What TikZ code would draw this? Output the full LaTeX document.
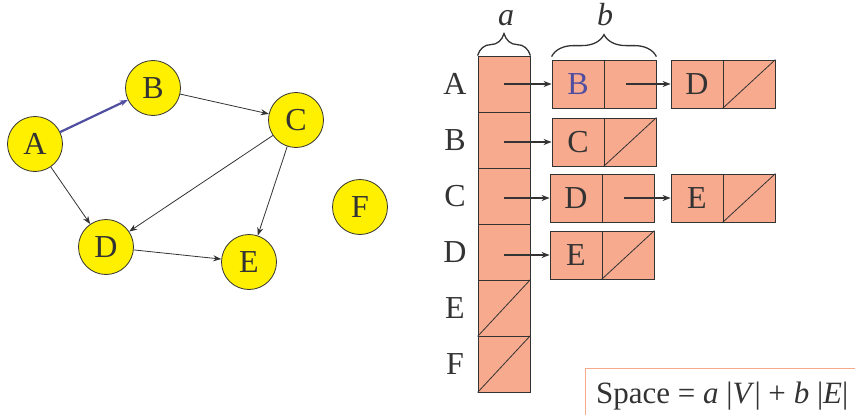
\documentclass[tikz,border=0pt]{standalone}
\usepackage{fontspec}
\setmainfont{Liberation Serif}
\usetikzlibrary{arrows.meta, decorations.pathreplacing}

\definecolor{nodeyellow}{RGB}{255,240,0}
\definecolor{cellfill}{RGB}{248,170,142}
\definecolor{inkgray}{RGB}{51,51,51}
\definecolor{edgeblue}{RGB}{80,78,160}
\definecolor{boxline}{RGB}{245,170,140}

\begin{document}
\begin{tikzpicture}[
    x=1pt, y=-1pt,
    >={Stealth[length=8pt, width=6pt]},
    font=\fontsize{32}{38}\selectfont,
    vertex/.style={circle, draw=inkgray, fill=nodeyellow, line width=0.8pt, minimum size=55pt, inner sep=0pt, text=inkgray},
    edge/.style={->, draw=inkgray, line width=0.8pt},
    cell/.style={draw=inkgray, fill=cellfill, line width=0.8pt, minimum width=52pt, minimum height=48pt, inner sep=0pt, text=inkgray},
    slot/.style={cell, minimum height=56pt},
    link/.style={->, draw=inkgray, line width=1.3pt},
    nil/.style={draw=inkgray, line width=0.8pt},
    brace/.style={decorate, decoration={brace, amplitude=22pt}, draw=inkgray, line width=1.3pt}
]
    \useasboundingbox (0,0) rectangle (855,415);

    % Graph
    \node[vertex] (A) at (35,144) {A};
    \node[vertex] (B) at (153,88) {B};
    \node[vertex] (C) at (296,120) {C};
    \node[vertex] (D) at (106,247) {D};
    \node[vertex] (E) at (249,262) {E};
    \node[vertex] (F) at (360,207) {F};

    \draw[->, draw=edgeblue, line width=2.2pt] (A) -- (B);
    \draw[edge] (B) -- (C);
    \draw[edge] (A) -- (D);
    \draw[edge] (C) -- (D);
    \draw[edge] (C) -- (E);
    \draw[edge] (D) -- (E);

    % Vertex array
    \node[text=inkgray] (labA) at (455,84) {A};
    \node[text=inkgray] (labB) at (455,140) {B};
    \node[text=inkgray] (labC) at (455,196) {C};
    \node[text=inkgray] (labD) at (455,252) {D};
    \node[text=inkgray] (labE) at (455,308) {E};
    \node[text=inkgray] (labF) at (455,364) {F};

    \node[slot] (arrA) at (504,84) {};
    \node[slot] (arrB) at (504,140) {};
    \node[slot] (arrC) at (504,196) {};
    \node[slot] (arrD) at (504,252) {};
    \node[slot] (arrE) at (504,308) {};
    \node[slot] (arrF) at (504,364) {};
    \draw[nil] (arrE.south west) -- (arrE.north east);
    \draw[nil] (arrF.south west) -- (arrF.north east);

    % Adjacency lists
    \node[cell, text=edgeblue] (keyA1) at (578,84) {B};
    \node[cell] (ptrA1) at (630,84) {};
    \node[cell] (keyA2) at (697,84) {D};
    \node[cell] (ptrA2) at (749,84) {};
    \draw[nil] (ptrA2.south west) -- (ptrA2.north east);

    \node[cell] (keyB1) at (578,142) {C};
    \node[cell] (ptrB1) at (630,142) {};
    \draw[nil] (ptrB1.south west) -- (ptrB1.north east);

    \node[cell] (keyC1) at (576,198) {D};
    \node[cell] (ptrC1) at (628,198) {};
    \node[cell] (keyC2) at (697,198) {E};
    \node[cell] (ptrC2) at (749,198) {};
    \draw[nil] (ptrC2.south west) -- (ptrC2.north east);

    \node[cell] (keyD1) at (576,255) {E};
    \node[cell] (ptrD1) at (628,255) {};
    \draw[nil] (ptrD1.south west) -- (ptrD1.north east);

    \draw[link] (arrA.center |- keyA1.west) -- (keyA1.west);
    \draw[link] (arrB.center |- keyB1.west) -- (keyB1.west);
    \draw[link] (arrC.center |- keyC1.west) -- (keyC1.west);
    \draw[link] (arrD.center |- keyD1.west) -- (keyD1.west);
    \draw[link] ([xshift=-4pt]ptrA1.center) -- (keyA2.west);
    \draw[link] ([xshift=-4pt]ptrC1.center) -- (keyC2.west);

    % Size braces
    \draw[brace] (arrA.north west) -- (arrA.north east);
    \draw[brace] ([yshift=3pt]keyA1.north west) -- ([yshift=3pt]ptrA1.north east);
    \node[anchor=base, text=inkgray] (sizea) at (506,25) {\textit{a}};
    \node[anchor=base, text=inkgray] (sizeb) at (605,25) {\textit{b}};

    % Space formula
    \node[draw=boxline, line width=0.8pt, anchor=north west, minimum width=300pt, minimum height=60pt] (spacebox) at (585,368) {};
    \node[anchor=base west, inner sep=0pt, text=inkgray, font=\fontsize{31}{36}\selectfont] (space) at (596,403) {Space = \textit{a} |\textit{V}| + \textit{b} |\textit{E}|};

\end{tikzpicture}
\end{document}
